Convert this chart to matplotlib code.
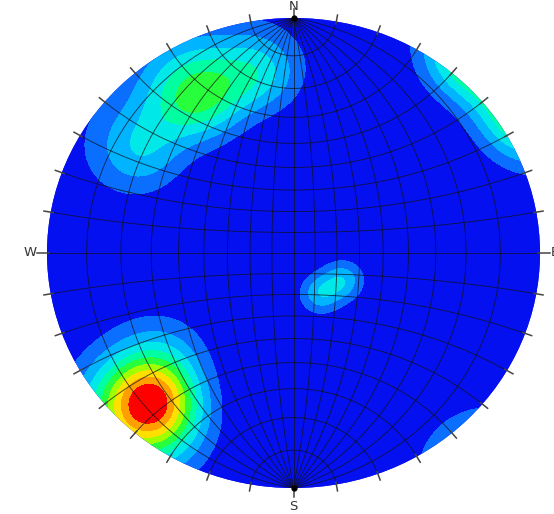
import numpy as np
import matplotlib.pyplot as plt
from matplotlib.patches import Circle

# pole concentrations: mean trend / plunge (deg), peak weight, Fisher kappa
trend = [222, 230, 305, 330, 350, 41, 58, 140, 148, 120]
plunge = [7, 20, 15, 14, 14, -7, -7, -10, 67, 64]
weight = [9.4, 2.2, 2.8, 5.4, 3.0, 6.2, 6.0, 4.8, 2.6, 2.6]
kappa = [36, 28, 34, 32, 44, 58, 58, 60, 80, 80]

# contour intervals and fill colours (lowest band first)
levels = [1, 2, 3, 4, 5, 6, 7, 8, 9]
band_colors = ["#0510f0", "#0a6eff", "#00b4ff", "#00e8e8", "#00ffa0",
               "#28ff3c", "#a0ff00", "#ffe000", "#ffa000", "#ff0000"]

compass = ["N", "E", "S", "W"]
compass_az = [0, 90, 180, 270]


def to_vec(tr, pl):
    tr, pl = np.radians(tr), np.radians(pl)
    return np.array([np.sin(tr) * np.cos(pl), np.cos(tr) * np.cos(pl), -np.sin(pl)])


def wulff(e, n, u):
    # lower hemisphere equal-angle projection
    return e / (1 - u), n / (1 - u)


fig = plt.figure(figsize=(5.54, 5.14), dpi=100)
ax = fig.add_axes([47 / 554, 26 / 514, 493 / 554, 470 / 514])
ax.set_xlim(-1, 1)
ax.set_ylim(-1, 1)
ax.axis("off")

# density on the net
g = np.linspace(-1.05, 1.05, 421)
X, Y = np.meshgrid(g, g)
rho2 = X ** 2 + Y ** 2
E = 2 * X / (1 + rho2)
Nn = 2 * Y / (1 + rho2)
U = (rho2 - 1) / (1 + rho2)
dens = np.zeros_like(X)
for tr, pl, w, k in zip(trend, plunge, weight, kappa):
    c = to_vec(tr, pl)
    dens += w * np.exp(k * (E * c[0] + Nn * c[1] + U * c[2] - 1))

disk = Circle((0, 0), 1, transform=ax.transData, facecolor=band_colors[0],
              edgecolor="none", zorder=0)
ax.add_patch(disk)
cs = ax.contourf(X, Y, dens, levels=[-1] + levels + [1e3], colors=band_colors, zorder=1)
cs.set_clip_path(disk)

# Wulff net: great circles striking N-S and small circles about the N-S axis
line_kw = dict(color="#101018", lw=0.65, alpha=0.75, zorder=2)
t = np.linspace(0, np.pi, 241)
for d in range(10, 91, 10):
    dr = np.radians(d)
    for s in ((1, -1) if d < 90 else (1,)):
        x, y = wulff(s * np.sin(t) * np.cos(dr), np.cos(t), -np.sin(t) * np.sin(dr))
        ax.plot(x, y, **line_kw)

phi = np.linspace(np.pi, 2 * np.pi, 241)
for a in range(10, 171, 10):
    ar = np.radians(a)
    x, y = wulff(np.sin(ar) * np.cos(phi), np.full_like(phi, np.cos(ar)), np.sin(ar) * np.sin(phi))
    ax.plot(x, y, **line_kw)

# perimeter ticks every 10 degrees
for az in range(0, 360, 10):
    a = np.radians(az)
    r1 = 1.04 if az in compass_az else 1.028
    ax.plot([0.99 * np.sin(a), r1 * np.sin(a)], [0.99 * np.cos(a), r1 * np.cos(a)],
            color="#454545", lw=1.1, zorder=3, clip_on=False)

ax.plot([0, 0], [1, -1], "o", color="black", ms=3.5, zorder=3, clip_on=False)

label_pos = {"N": (0, 1.05), "E": (1.062, 0), "S": (0, -1.078), "W": (-1.069, 0)}
for name in compass:
    ax.text(*label_pos[name], name, ha="center", va="center", fontsize=9.5,
            color="#333333", clip_on=False)

fig.savefig("out.png", dpi=100)
